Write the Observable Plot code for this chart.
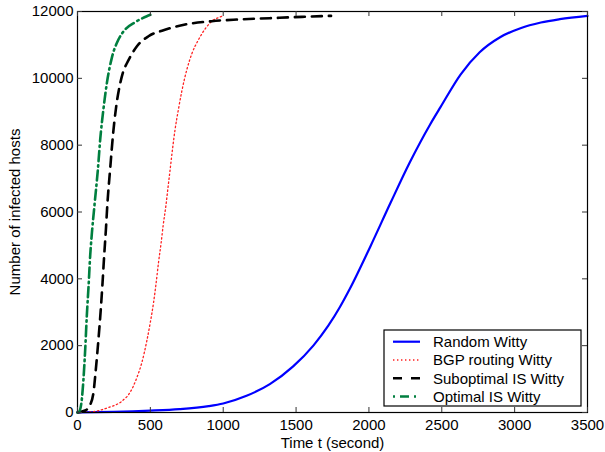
<!DOCTYPE html>
<html>
<head>
<meta charset="utf-8">
<script src="https://cdn.jsdelivr.net/npm/d3@7"></script>
<script src="https://cdn.jsdelivr.net/npm/@observablehq/plot@0.6"></script>
<style>
  html, body { margin: 0; padding: 0; background: #fff; }
  #chart { width: 605px; height: 452px; }
</style>
</head>
<body>
<div id="chart"></div>
<script>
// ---- data ----
const xTicks = [0, 500, 1000, 1500, 2000, 2500, 3000, 3500];
const yTicks = [0, 2000, 4000, 6000, 8000, 10000, 12000];

const seriesNames = ["Random Witty", "BGP routing Witty", "Suboptimal IS Witty", "Optimal IS Witty"];

const randomT = [0, 250, 500, 700, 900, 1000, 1160, 1320, 1480, 1620, 1720, 1800, 1870, 2010, 2150, 2280, 2420, 2490, 2630, 2760, 2900, 3040, 3180, 3310, 3500];
const randomV = [5, 20, 55, 100, 190, 270, 500, 850, 1380, 2010, 2590, 3150, 3710, 4970, 6290, 7480, 8620, 9130, 10120, 10780, 11230, 11500, 11670, 11770, 11870];

const bgpT = [0, 76, 213, 305, 362, 408, 442, 476, 499, 522, 540, 556, 574, 588, 607, 620, 636, 652, 670, 693, 716, 751, 785, 831, 876, 922, 991, 1000];
const bgpV = [0, 10, 150, 340, 610, 1050, 1500, 2150, 2680, 3290, 3890, 4490, 5080, 5600, 6200, 6690, 7280, 7880, 8480, 9080, 9620, 10270, 10740, 11160, 11480, 11710, 11860, 11880];

const subT = [0, 53, 87, 110, 126, 144, 160, 172, 183, 195, 205, 224, 243, 266, 293, 315, 339, 408, 487, 590, 739, 922, 1100, 1320, 1540, 1740];
const subV = [0, 60, 230, 610, 1300, 2200, 3100, 3890, 4690, 5480, 6230, 7280, 8280, 9170, 9850, 10220, 10450, 10960, 11260, 11440, 11610, 11710, 11760, 11800, 11840, 11870];

const optT = [0, 12, 30, 41, 53, 64, 76, 87, 99, 116, 140, 156, 178, 202, 236, 281, 327, 396, 476, 500];
const optV = [0, 30, 410, 1000, 1900, 2900, 3790, 4690, 5380, 6180, 7280, 8180, 9080, 9870, 10620, 11160, 11460, 11680, 11860, 11900];

// ---- styles ----
const styles = [
  {stroke: "#0000ff", strokeWidth: 2.2, dash: null},
  {stroke: "#ff2020", strokeWidth: 1.3, dash: "1.4,2.6"},
  {stroke: "#000000", strokeWidth: 2.6, dash: "10,7"},
  {stroke: "#007f3f", strokeWidth: 2.6, dash: "10,4,1.5,4"}
];

const toRows = (ts, vs) => ts.map((t, i) => ({t, v: vs[i]}));
const series = [toRows(randomT, randomV), toRows(bgpT, bgpV), toRows(subT, subV), toRows(optT, optV)];

const W = 605, H = 452;
const mL = 77, mR = 18, mT = 11, mB = 40;
const innerH = H - mT - mB;
const innerW = W - mL - mR;
const tickLen = 5;
const font = "'Liberation Sans', Arial, Helvetica, sans-serif";

const lineMarks = series.map((rows, i) => Plot.line(rows, {
  x: "t", y: "v", stroke: styles[i].stroke, strokeWidth: styles[i].strokeWidth,
  strokeDasharray: styles[i].dash, curve: "monotone-x"
}));

const chart = Plot.plot({
  width: W, height: H,
  marginLeft: mL, marginRight: mR, marginTop: mT, marginBottom: mB,
  style: {fontFamily: font, fontSize: "15px", background: "#fff", color: "#000"},
  x: {domain: [0, 3500]},
  y: {domain: [0, 12000]},
  marks: [
    ...lineMarks,
    Plot.frame({stroke: "#000", strokeWidth: 1.2}),
    Plot.tickX(xTicks, {x: d => d, insetTop: innerH - tickLen, stroke: "#333"}),
    Plot.tickX(xTicks, {x: d => d, insetBottom: innerH - tickLen, stroke: "#333"}),
    Plot.tickY(yTicks, {y: d => d, insetRight: innerW - tickLen, stroke: "#333"}),
    Plot.tickY(yTicks, {y: d => d, insetLeft: innerW - tickLen, stroke: "#333"}),
    Plot.axisX(xTicks, {tickSize: 0, tickPadding: 7, tickFormat: d => `${d}`, label: null, fontSize: 15}),
    Plot.axisY(yTicks, {tickSize: 0, tickPadding: 4, tickFormat: d => `${d}`, label: null, fontSize: 15}),
    Plot.text(["Time t (second)"], {frameAnchor: "bottom", dy: 31, lineAnchor: "middle", fontSize: 15, fill: "#000"}),
    Plot.text(["Number of infected hosts"], {frameAnchor: "left", dx: -62, rotate: -90, lineAnchor: "middle", textAnchor: "middle", fontSize: 15, fill: "#000"})
  ]
});

// ---- legend (box in lower right of the plot area) ----
const svg = d3.select(chart);
const lg = svg.append("g").attr("font-family", font).attr("font-size", 15).attr("text-anchor", "start");
const bx = 384, by = 330, bw = 197, bh = 76;
lg.append("rect").attr("x", bx).attr("y", by).attr("width", bw).attr("height", bh)
  .attr("fill", "#fff").attr("stroke", "#000").attr("stroke-width", 1.2);
const rowY = [341.7, 360, 378.3, 396.5];
seriesNames.forEach((name, i) => {
  const s = styles[i];
  const dash = i === 2 ? "9,9" : i === 3 ? "2,5,9,5" : s.dash;
  lg.append("line").attr("x1", 393).attr("x2", 420).attr("y1", rowY[i]).attr("y2", rowY[i])
    .attr("stroke", s.stroke).attr("stroke-width", s.strokeWidth)
    .attr("stroke-dasharray", dash);
  lg.append("text").attr("x", 433).attr("y", rowY[i]).attr("dy", "0.35em")
    .attr("text-anchor", "start").attr("fill", "#000").text(name);
});

document.getElementById("chart").appendChild(chart);
</script>
</body>
</html>
